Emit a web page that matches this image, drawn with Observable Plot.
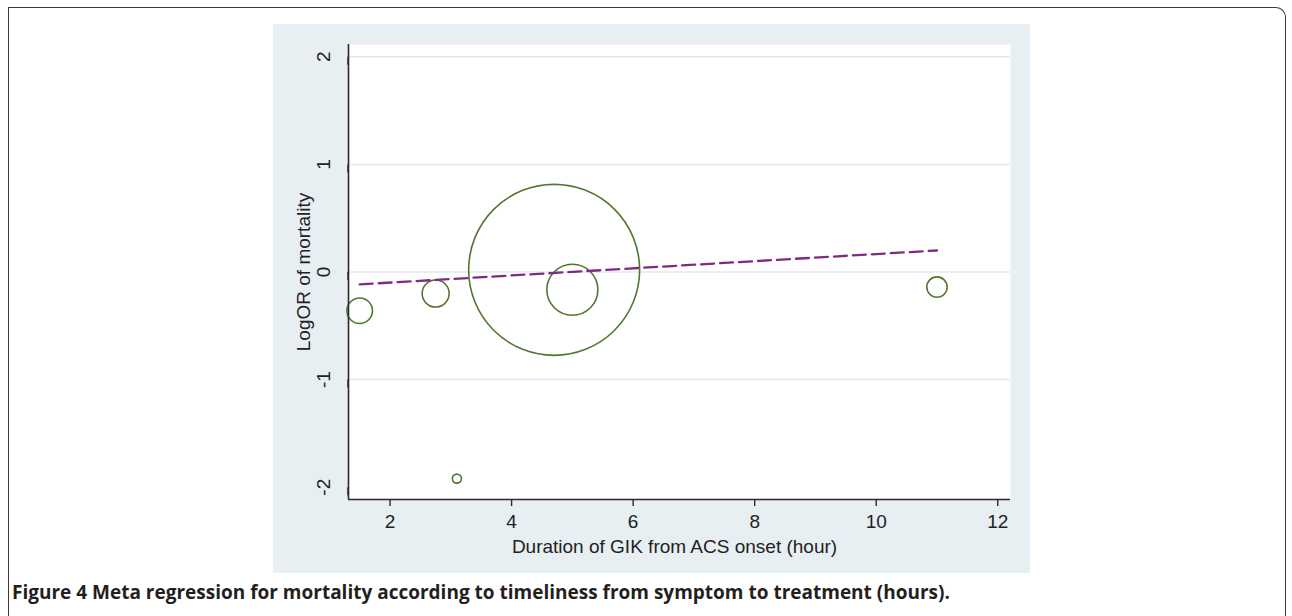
<!DOCTYPE html>
<html>
<head>
<meta charset="utf-8">
<script src="https://cdn.jsdelivr.net/npm/d3@7"></script>
<script src="https://cdn.jsdelivr.net/npm/@observablehq/plot@0.6"></script>
<style>
  html, body { margin: 0; padding: 0; background: #fff; }
  body { width: 1292px; height: 616px; overflow: hidden; position: relative; font-family: "Liberation Sans", Arial, sans-serif; }
  #border { position: absolute; left: 8px; top: 7px; width: 1278px; height: 700px;
            border-left: 1.5px solid #3a3a3a; border-top: 1.5px solid #3a3a3a; border-right: 1.5px solid #3a3a3a;
            border-top-right-radius: 10px; box-sizing: border-box; }
  #panel { position: absolute; left: 273px; top: 24px; width: 757px; height: 549px; background: #e8eff2; }
  #panel svg { display: block; }
  #caption { position: absolute; left: 12px; top: 580px; font-family: "Open Sans", "Noto Sans", sans-serif;
             font-weight: bold; font-size: 19px; line-height: 24px; color: #231f20; white-space: nowrap; }
</style>
</head>
<body>
<div id="border"></div>
<div id="panel"></div>
<div id="caption">Figure 4 Meta regression for mortality according to timeliness from symptom to treatment (hours).</div>
<script>
// Study-level data
const duration = [1.5, 2.75, 3.1, 4.7, 5.0, 11.0];      // hours from ACS onset
const logOR    = [-0.36, -0.20, -1.92, 0.02, -0.165, -0.14];
const weight   = [2.24, 2.49, 0.28, 100, 8.9, 1.42];    // relative study weights (bubble area)

// Meta-regression fitted line
const fitX = [1.5, 11.0];
const fitY = [-0.115, 0.20];

// Axis ticks
const xTicks = [2, 4, 6, 8, 10, 12];
const yTicks = [-2, -1, 0, 1, 2];
const yGrid  = [-1, 0, 1, 2];

const xLabel = "Duration of GIK from ACS onset (hour)";
const yLabel = "LogOR of mortality";

const studies = duration.map((d, i) => ({x: d, y: logOR[i], w: weight[i]}));
const fit = fitX.map((d, i) => ({x: d, y: fitY[i]}));

const xDomain = [1.316, 12.21];
const yDomain = [-2.114, 2.114];

const chart = Plot.plot({
  width: 757,
  height: 549,
  marginLeft: 75,
  marginTop: 20,
  marginRight: 20,
  marginBottom: 74,
  style: {background: "transparent", fontFamily: "Liberation Sans, Arial, sans-serif"},
  x: {domain: xDomain},
  y: {domain: yDomain},
  r: {type: "sqrt", domain: [0, 100], range: [0, 85.5]},
  marks: [
    Plot.frame({fill: "white", stroke: "none"}),
    Plot.gridY(yGrid, {stroke: "#e2eaee", strokeOpacity: 1, strokeWidth: 1.5}),
    Plot.dot(studies, {x: "x", y: "y", r: "w", stroke: "#557630", strokeWidth: 1.6, fill: "none"}),
    Plot.line(fit, {x: "x", y: "y", stroke: "#7e2c80", strokeWidth: 2.3, strokeDasharray: "13,6"}),
    Plot.ruleX([xDomain[0]], {y1: yDomain[0], y2: yDomain[1], stroke: "#2a2a2a", strokeWidth: 1.6}),
    Plot.ruleY([yDomain[0]], {x1: xDomain[0], x2: xDomain[1], stroke: "#2a2a2a", strokeWidth: 1.6}),
    Plot.axisX({ticks: xTicks, tickSize: 7, tickPadding: 8, fontSize: 19, label: null,
                tickFormat: d => String(d), stroke: "#2a2a2a", strokeWidth: 1.4, strokeOpacity: 1, fill: "#222"}),
    Plot.axisY({ticks: yTicks, tickSize: 8, tickPadding: 17, fontSize: 19, label: null,
                rotate: -90, textAnchor: "middle",
                tickFormat: d => String(d), stroke: "#2a2a2a", strokeWidth: 1.4, strokeOpacity: 1, fill: "#222"}),
    Plot.text([xLabel], {text: d => d, frameAnchor: "bottom", dy: 47, dx: -5, lineAnchor: "middle",
                         textAnchor: "middle", fontSize: 19, fill: "#222"}),
    Plot.text([yLabel], {text: d => d, frameAnchor: "left", dx: -45, rotate: -90, lineAnchor: "middle",
                         textAnchor: "middle", fontSize: 19, fill: "#222"})
  ]
});
document.getElementById("panel").appendChild(chart);
</script>
</body>
</html>
